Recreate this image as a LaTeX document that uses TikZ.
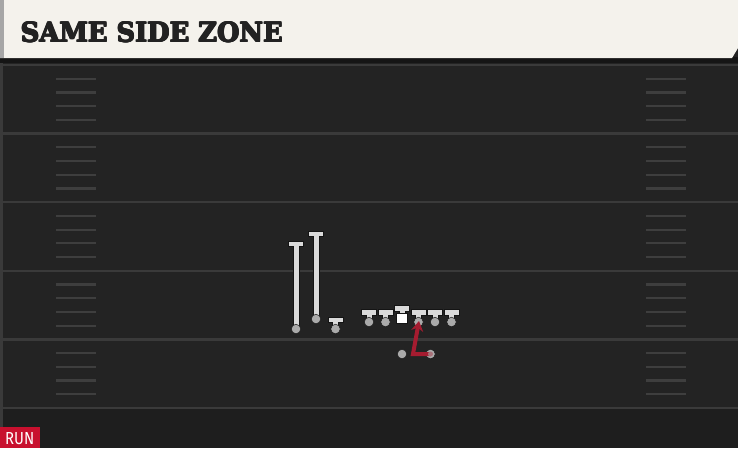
\documentclass[tikz,border=0pt]{standalone}
\usepackage{fontspec}
\setmainfont{DejaVu Serif}
\newfontfamily\titlefont[UprightFont=* Bold]{DejaVu Serif}
\newfontfamily\runfont{Fira Sans}
\usetikzlibrary{arrows.meta}
\definecolor{fieldbg}{HTML}{232323}
\definecolor{fieldlow}{HTML}{1E1E1E}
\definecolor{cream}{HTML}{F4F2EC}
\definecolor{hdrdark}{HTML}{151515}
\definecolor{yardline}{HTML}{3A3A3A}
\definecolor{hashcol}{HTML}{3E3E3E}
\definecolor{stemgray}{HTML}{DADADA}
\definecolor{dotgray}{HTML}{AAAAAA}
\definecolor{outl}{HTML}{141414}
\definecolor{routered}{HTML}{A51C30}
\definecolor{runred}{HTML}{C8102E}
\definecolor{titleink}{HTML}{222222}
\tikzset{
  tstem/.style={fill=stemgray, draw=outl, line width=0.6pt},
  playerdot/.style={circle, fill=dotgray, draw=outl, line width=0.5pt, minimum size=9.5pt, inner sep=0pt},
  centersq/.style={fill=white, draw=outl, line width=0.6pt},
  yard/.style={draw=yardline, line width=2.4pt},
  hashmark/.style={draw=hashcol, line width=2.2pt},
  route/.style={draw=routered, line width=4pt, line join=miter, -{Stealth[length=10pt,width=12pt]}},
  titletext/.style={anchor=base west, inner sep=0pt, text=titleink},
}
\newcommand\tplayer[3]{% x, top, bottom
  \filldraw[tstem] (#1-2.8,#2) rectangle (#1+2.8,#3);
  \filldraw[tstem] (#1-7.3,#2) rectangle (#1+7.3,#2+5.5);
  \fill[stemgray] (#1-2.5,#2+4) rectangle (#1+2.5,#2+6.5);
}
\begin{document}
\begin{tikzpicture}[x=1pt,y=-1pt]
\useasboundingbox (0,0) rectangle (738,448);
% field
\fill[fieldbg] (0,0) rectangle (738,448);
\fill[fieldlow] (0,409) rectangle (738,448);
\fill[yardline] (0,60) rectangle (2.5,448);
% yard lines and hashes
\foreach \yy in {65,133.6,202.2,270.8,339.4,408} {
  \draw[yard] (0,\yy) -- (738,\yy);
}
\foreach \yy in {65,133.6,202.2,270.8,339.4} {
  \foreach \k in {1,2,3,4} {
    \draw[hashmark] (56,\yy+\k*13.72) -- (96,\yy+\k*13.72);
    \draw[hashmark] (646,\yy+\k*13.72) -- (686,\yy+\k*13.72);
  }
}
% header
\fill[hdrdark] (0,57) rectangle (738,62.5);
\fill[cream] (0,0) -- (738,0) -- (738,48) -- (732,58) -- (0,58) -- cycle;
\fill[gray!70] (0,0) rectangle (3.5,58);
\foreach \dx/\dy in {0/0,0.6/0,1.2/0,0/-0.6,0.6/-0.6,1.2/-0.6} {
  \node[titletext] at (20+\dx,42.3+\dy)
    {\resizebox{262pt}{20pt}{\titlefont SAME SIDE ZONE}};
}
\node[titletext] (title) at (20.6,42)
  {\resizebox{262pt}{20pt}{\titlefont SAME SIDE ZONE}};
% RUN label
\fill[runred] (0,427) rectangle (40,448);
\node[anchor=base west, inner sep=0pt, text=white] (run) at (5,444.3)
  {\resizebox{29pt}{12pt}{\runfont RUN}};
% receivers
\tplayer{296}{241}{329}
\node[playerdot] (wr1) at (296,329) {};
\tplayer{316}{231}{319}
\node[playerdot] (wr2) at (316,319) {};
\tplayer{335.5}{317}{329}
\node[playerdot] (te) at (335.5,329) {};
% offensive line
\tplayer{369}{309.5}{322}
\node[playerdot] (lt) at (369,322) {};
\tplayer{385.5}{309.5}{322}
\node[playerdot] (lg) at (385.5,322) {};
\tplayer{402}{305.5}{316}
\filldraw[centersq] (396.5,313) rectangle (407,323);
\node[inner sep=0pt, minimum size=0pt] (c) at (401.8,318) {};
\tplayer{418.5}{309.5}{322}
\node[playerdot] (rg) at (418.5,322) {};
\tplayer{435}{309.5}{322}
\node[playerdot] (rt) at (435,322) {};
\tplayer{451.5}{309.5}{322}
\node[playerdot] (te2) at (451.5,322) {};
% backfield
\node[playerdot] (qb) at (402,354) {};
\node[playerdot] (rb) at (430.5,354) {};
\coordinate (cut) at (413,354);
\coordinate (hole) at (419,321);
\draw[route] (rb.center) -- (cut) -- (hole);
\node[playerdot, fill=dotgray!60!routered, draw=none, minimum size=5pt] at (rb) {};
\end{tikzpicture}
\end{document}
